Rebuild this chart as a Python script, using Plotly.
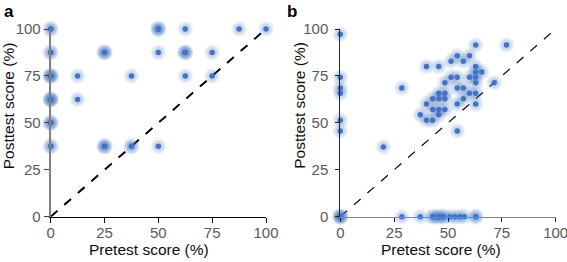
import plotly.graph_objects as go

# ---------------- Panel a data (pretest, posttest in %) ----------------
pre_a = [0, 0, 50, 50, 50, 62.5, 87.5, 100,
         0, 0, 25, 25, 25, 50, 62.5, 62.5, 62.5, 75,
         0, 0, 0, 0, 12.5, 37.5, 62.5, 75,
         0, 0, 0, 0, 12.5,
         0, 0, 0,
         0, 0, 25, 25, 25, 37.5, 37.5, 50]
post_a = [100, 100, 100, 100, 100, 100, 100, 100,
          87.5, 87.5, 87.5, 87.5, 87.5, 87.5, 87.5, 87.5, 87.5, 87.5,
          75, 75, 75, 75, 75, 75, 75, 75,
          62.5, 62.5, 62.5, 62.5, 62.5,
          50, 50, 50,
          37.5, 37.5, 37.5, 37.5, 37.5, 37.5, 37.5, 37.5]

# ---------------- Panel b data (pretest, posttest in %) ----------------
pre_b = [0, 0, 0, 0, 0, 0,
         0, 0, 0, 0,
         20.0, 28.57, 37.14,
         40.0, 40.0, 40.0,
         42.86, 42.86, 42.86,
         45.71, 45.71, 45.71, 45.71, 45.71,
         48.57, 48.57, 48.57, 48.57,
         51.43, 51.43,
         54.29, 54.29, 54.29, 54.29, 54.29,
         57.14, 57.14, 57.14,
         60.0, 60.0, 60.0,
         62.86, 62.86, 62.86, 62.86, 62.86, 62.86, 62.86,
         65.71, 71.43, 77.14,
         28.57, 37.14, 42.9, 42.9, 45.5, 45.5, 47.8, 47.8, 50.9, 53.2, 55.5, 57.6, 62.86, 62.86]
post_b = [97.14, 74.29, 68.57, 65.71, 51.43, 45.71,
          0, 0, 0, 0,
          37.14, 68.57, 54.29,
          80.0, 60.0, 51.43,
          62.86, 57.14, 51.43,
          80.0, 65.71, 62.86, 57.14, 54.29,
          71.43, 65.71, 62.86, 57.14,
          82.86, 74.29,
          85.71, 74.29, 68.57, 60.0, 45.71,
          82.86, 68.57, 62.86,
          85.71, 74.29, 65.71,
          91.43, 80.0, 77.14, 74.29, 71.43, 65.71, 60.0,
          77.14, 71.43, 91.43,
          0, 0, 0, 0, 0, 0, 0, 0, 0, 0, 0, 0, 0, 0]

ticks = [0, 25, 50, 75, 100]
diag = [0, 100]

BLUE = "#4472C4"
FONT = "Liberation Sans, Arial, sans-serif"

fig = go.Figure()


def add_panel(xs, ys, xa, ya, dash_width):
    fig.add_trace(go.Scatter(x=diag, y=diag, mode="lines", xaxis=xa, yaxis=ya,
                             line=dict(color="black", width=dash_width, dash="dash"),
                             hoverinfo="skip", showlegend=False))
    for size, op in [(16, 0.08), (13, 0.10), (10, 0.12)]:
        fig.add_trace(go.Scatter(x=xs, y=ys, mode="markers", xaxis=xa, yaxis=ya,
                                 marker=dict(color=BLUE, size=size, opacity=op, line=dict(width=0)),
                                 cliponaxis=False, hoverinfo="skip", showlegend=False))
    fig.add_trace(go.Scatter(x=xs, y=ys, mode="markers", xaxis=xa, yaxis=ya,
                             marker=dict(color=BLUE, size=5.5, line=dict(width=0)),
                             cliponaxis=False, showlegend=False))


add_panel(pre_a, post_a, "x", "y", 2)
add_panel(pre_b, post_b, "x2", "y2", 1.2)

W, H = 567, 262
ydom = [(H - 216.7) / H, (H - 29) / H]
tickfont = dict(family=FONT, size=15, color="#595959")

common = dict(range=[0, 100], tickvals=ticks, ticktext=[str(t) for t in ticks],
              showgrid=False, zeroline=False, showline=True, ticks="outside",
              tickfont=tickfont, fixedrange=True, automargin=False,
              ticklabeloverflow="allow")

fig.update_layout(
    width=W, height=H, margin=dict(l=0, r=0, t=0, b=0, autoexpand=False),
    paper_bgcolor="white", plot_bgcolor="white",
    xaxis=dict(domain=[50.7 / W, 266 / W], anchor="y", linecolor="black", linewidth=1.5,
               ticklen=5, tickcolor="black", ticklabelstandoff=-3, **common),
    yaxis=dict(domain=ydom, anchor="x", linecolor="#808080", linewidth=2,
               ticklen=5, tickcolor="#404040", **common),
    xaxis2=dict(domain=[340.3 / W, 555.7 / W], anchor="y2", linecolor="#868686", linewidth=1.5,
                ticklen=4, tickcolor="#262626", ticklabelstandoff=-2, **common),
    yaxis2=dict(domain=ydom, anchor="x2", linecolor="#262626", linewidth=1,
                ticklen=4, tickcolor="#262626", ticklabelstandoff=4, **common),
)

title_font = dict(family=FONT, size=15.5, color="#0d0d0d")
ann = [
    dict(text="<b>a</b>", x=2 / W, y=1 - 0.5 / H, xanchor="left", yanchor="top",
         font=dict(family=FONT, size=17, color="black")),
    dict(text="<b>b</b>", x=285 / W, y=1 - 0.5 / H, xanchor="left", yanchor="top",
         font=dict(family=FONT, size=17, color="black")),
    dict(text="Pretest score (%)", x=149.2 / W, y=(H - 249.5) / H, xanchor="center", yanchor="middle",
         font=title_font),
    dict(text="Pretest score (%)", x=440.5 / W, y=(H - 249.5) / H, xanchor="center", yanchor="middle",
         font=title_font),
    dict(text="Posttest score (%)", x=8.5 / W, y=(H - 105.8) / H, xanchor="center", yanchor="middle",
         textangle=-90, font=title_font),
    dict(text="Posttest score (%)", x=300 / W, y=(H - 105.8) / H, xanchor="center", yanchor="middle",
         textangle=-90, font=title_font),
]
for a in ann:
    a.update(xref="paper", yref="paper", showarrow=False)
fig.update_layout(annotations=ann)

fig.write_html("out.html", config={"displayModeBar": False, "staticPlot": True},
               post_script="document.body.style.margin='0';document.body.style.overflow='hidden';")
